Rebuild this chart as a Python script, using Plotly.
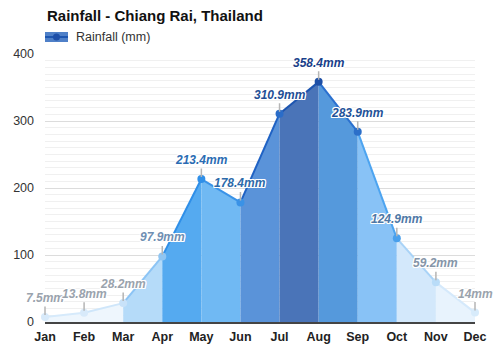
import plotly.graph_objects as go

# Monthly rainfall, Chiang Rai
months = ["Jan", "Feb", "Mar", "Apr", "May", "Jun", "Jul", "Aug", "Sep", "Oct", "Nov", "Dec"]
rain_mm = [7.5, 13.8, 28.2, 97.9, 213.4, 178.4, 310.9, 358.4, 283.9, 124.9, 59.2, 14]

# Styling: one fill / line colour per month-to-month band, one marker + label colour per month
band_fill = ["#eef6fd", "#eef6fd", "#b5dbf9", "#55aaf0", "#70b9f3", "#5a93d9",
             "#4a74b8", "#5599dc", "#88c2f6", "#d3e8fb", "#e8f3fd"]
band_line = ["#d6eafb", "#cfe6fa", "#8cc4f5", "#2f8fe8", "#3a93e8", "#1f62c4",
             "#1d55b0", "#2a70cf", "#4da4f0", "#a9d3f7", "#d5e9fb"]
point_color = ["#d8eafa", "#d8eafa", "#c8e2f9", "#8fc5f2", "#2f8fe8", "#3a92e6",
               "#2a6cc8", "#1d4fa6", "#2c6fc9", "#4aa0ec", "#b9dcf8", "#d7ebfb"]
label_color = ["#9aa3ad", "#9aa3ad", "#9aa3ad", "#6f8fb3", "#2a6cb3", "#2d6aaa",
               "#1f4f96", "#1a3f8a", "#1f5298", "#4f78a6", "#8595a8", "#9aa3ad"]

fig = go.Figure()

# Filled bands between consecutive months
for i in range(len(months) - 1):
    fig.add_trace(go.Scatter(
        x=[months[i], months[i + 1], months[i + 1], months[i]],
        y=[rain_mm[i], rain_mm[i + 1], 0, 0],
        fill="toself", fillcolor=band_fill[i],
        mode="lines", line=dict(width=0),
        hoverinfo="skip", showlegend=False,
    ))

# Outline segments
for i in range(len(months) - 1):
    fig.add_trace(go.Scatter(
        x=[months[i], months[i + 1]],
        y=[rain_mm[i], rain_mm[i + 1]],
        mode="lines", line=dict(color=band_line[i], width=2),
        hoverinfo="skip", showlegend=False, cliponaxis=False,
    ))

# Points
fig.add_trace(go.Scatter(
    x=months, y=rain_mm, mode="markers",
    marker=dict(size=8, color=point_color),
    showlegend=False, cliponaxis=False,
))

halo = "1px 1px 0 #fff, -1px -1px 0 #fff, 1px -1px 0 #fff, -1px 1px 0 #fff, 0 1px 0 #fff, 0 -1px 0 #fff, 1px 0 0 #fff, -1px 0 0 #fff"

annotations = []
for m, v, c in zip(months, rain_mm, label_color):
    annotations.append(dict(
        x=m, y=v, xref="x", yref="y",
        text=f"{v:g}mm",
        showarrow=True, arrowhead=0, arrowwidth=1.5, arrowcolor="#b5b5b5",
        ax=0, ay=-19, standoff=2,
        font=dict(family="Liberation Sans, Arial", size=12, color=c,
                  weight="bold", style="italic", shadow=halo),
    ))

# Title
annotations.append(dict(
    xref="paper", yref="paper", x=0, y=1.142, xanchor="left", yanchor="middle",
    text="<b>Rainfall - Chiang Rai, Thailand</b>", showarrow=False,
    font=dict(family="Liberation Sans, Arial", size=15, color="#111"),
))
# Legend text
annotations.append(dict(
    xref="paper", yref="paper", x=0.067, y=1.0634, xanchor="left", yanchor="middle",
    text="Rainfall (mm)", showarrow=False,
    font=dict(family="Liberation Sans, Arial", size=12.5, color="#333"),
))

shapes = [
    dict(type="rect", xref="paper", yref="paper", x0=0, x1=0.0535, y0=1.0448, y1=1.0821,
         fillcolor="#4f80c8", line=dict(width=0), layer="above"),
    dict(type="line", xref="paper", yref="paper", x0=0, x1=0.0535, y0=1.0634, y1=1.0634,
         line=dict(color="#1e56b0", width=2), layer="above"),
    dict(type="circle", xref="paper", yref="paper", xsizemode="pixel", ysizemode="pixel",
         xanchor=0.0267, yanchor=1.0634, x0=-3.5, x1=3.5, y0=-3.5, y1=3.5,
         fillcolor="#1e4fa8", line=dict(width=0), layer="above"),
]

fig.update_layout(
    width=500, height=350,
    margin=dict(l=45, r=25, t=54, b=28),
    paper_bgcolor="white", plot_bgcolor="white",
    font=dict(family="Liberation Sans, Arial", color="#333"),
    showlegend=False,
    annotations=annotations,
    shapes=shapes,
    xaxis=dict(
        type="category", range=[0, 11], showgrid=False, zeroline=False,
        showline=True, linecolor="#444", linewidth=1.5,
        ticks="", ticklabelstandoff=2,
        tickfont=dict(size=12.5, color="#222", weight="bold"),
        automargin=False, fixedrange=True,
    ),
    yaxis=dict(
        range=[0, 400], dtick=100, showgrid=True, gridcolor="#dcdcdc", gridwidth=1,
        minor=dict(dtick=10, showgrid=True, gridcolor="#f0f0f0", gridwidth=1),
        zeroline=False, showline=False, ticks="",
        ticklabelstandoff=10,
        tickfont=dict(size=12.5, color="#333"),
        automargin=False, fixedrange=True,
    ),
)

fig.write_html("out.html")
